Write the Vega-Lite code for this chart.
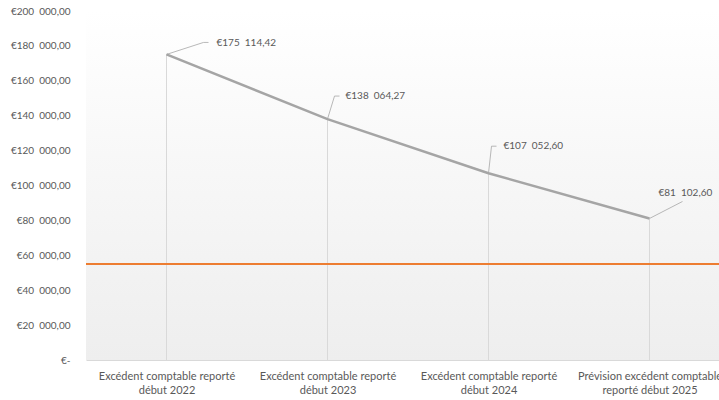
{
  "$schema": "https://vega.github.io/schema/vega-lite/v6.json",
  "autosize": "none",
  "width": 644,
  "height": 349,
  "padding": {"left": 86, "top": 11, "right": 0, "bottom": 40},
  "background": "white",
  "config": {
    "locale": {"number": {"decimal": ",", "thousands": "\u00a0\u00a0", "grouping": [3], "currency": ["€", ""]}},
    "font": "Lato",
    "view": {"stroke": null, "fill": {"gradient": "linear", "x1": 0, "y1": 0, "x2": 0, "y2": 1, "stops": [{"offset": 0, "color": "#ffffff"}, {"offset": 1, "color": "#eeeeee"}]}},
    "axis": {"labelColor": "#595959", "labelFontSize": 11, "labelFont": "Lato", "grid": false, "ticks": false, "title": null}
  },
  "datasets": {
    "serie": [
      {"cat": "Excédent comptable reporté début 2022", "value": 175114.42},
      {"cat": "Excédent comptable reporté début 2023", "value": 138064.27},
      {"cat": "Excédent comptable reporté début 2024", "value": 107052.60},
      {"cat": "Prévision excédent comptable reporté début 2025", "value": 81102.60}
    ],
    "seuil": [{"seuil": 55000}]
  },
  "data": {"name": "serie"},
  "encoding": {
    "x": {"field": "cat", "type": "nominal", "sort": null,
      "scale": {"type": "point", "padding": 0.5},
      "axis": {"labelAngle": 0, "labelPadding": 10, "labelLineHeight": 14, "domainColor": "#d9d9d9", "domainWidth": 1,
        "labelExpr": "indexof(datum.label,'Prévision')==0 ? [substring(datum.label,0,28), substring(datum.label,29)] : [substring(datum.label,0,26), substring(datum.label,27)]"}},
    "y": {"field": "value", "type": "quantitative",
      "scale": {"domain": [0, 200000], "nice": false},
      "axis": {"values": [0, 20000, 40000, 60000, 80000, 100000, 120000, 140000, 160000, 180000, 200000], "format": "$,.2f", "labelFontSize": 10, "labelExpr": "datum.value == 0 ? '€-\u00a0\u00a0' : datum.label", "domain": false, "labelPadding": 16}}
  },
  "layer": [
    {"mark": {"type": "rule", "color": "#d9d9d9", "strokeWidth": 1}, "encoding": {"y2": {"datum": 0}}},
    {"data": {"name": "seuil"}, "mark": {"type": "rule", "color": "#ed7d31", "strokeWidth": 2}, "encoding": {"x": null, "y": {"field": "seuil", "type": "quantitative"}}},
    {"mark": {"type": "line", "color": "#a5a5a5", "strokeWidth": 2.5}},
    {"transform": [{"filter": "indexof(datum.cat,'2022')>0"}], "layer": [
      {"mark": {"type": "rule", "color": "#a6a6a6", "strokeWidth": 0.8, "x2Offset": 37, "y2Offset": -12}, "encoding": {"x2": {"field": "cat"}, "y2": {"field": "value"}}},
      {"mark": {"type": "rule", "color": "#a6a6a6", "strokeWidth": 0.8, "xOffset": 37, "x2Offset": 42, "yOffset": -12}, "encoding": {"x2": {"field": "cat"}}},
      {"mark": {"type": "text", "align": "left", "baseline": "middle", "dx": 50, "dy": -11, "fontSize": 10, "color": "#595959"}, "encoding": {"text": {"field": "value", "type": "quantitative", "format": "$,.2f"}}}
    ]},
    {"transform": [{"filter": "indexof(datum.cat,'2023')>0"}], "layer": [
      {"mark": {"type": "rule", "color": "#a6a6a6", "strokeWidth": 0.8, "x2Offset": 7, "y2Offset": -23}, "encoding": {"x2": {"field": "cat"}, "y2": {"field": "value"}}},
      {"mark": {"type": "rule", "color": "#a6a6a6", "strokeWidth": 0.8, "xOffset": 7, "x2Offset": 12, "yOffset": -23}, "encoding": {"x2": {"field": "cat"}}},
      {"mark": {"type": "text", "align": "left", "baseline": "middle", "dx": 18, "dy": -23, "fontSize": 10, "color": "#595959"}, "encoding": {"text": {"field": "value", "type": "quantitative", "format": "$,.2f"}}}
    ]},
    {"transform": [{"filter": "indexof(datum.cat,'2024')>0"}], "layer": [
      {"mark": {"type": "rule", "color": "#a6a6a6", "strokeWidth": 0.8, "x2Offset": 3, "y2Offset": -27}, "encoding": {"x2": {"field": "cat"}, "y2": {"field": "value"}}},
      {"mark": {"type": "rule", "color": "#a6a6a6", "strokeWidth": 0.8, "xOffset": 3, "x2Offset": 8, "yOffset": -27}, "encoding": {"x2": {"field": "cat"}}},
      {"mark": {"type": "text", "align": "left", "baseline": "middle", "dx": 15, "dy": -27, "fontSize": 10, "color": "#595959"}, "encoding": {"text": {"field": "value", "type": "quantitative", "format": "$,.2f"}}}
    ]},
    {"transform": [{"filter": "indexof(datum.cat,'2025')>0"}], "layer": [
      {"mark": {"type": "rule", "color": "#a6a6a6", "strokeWidth": 0.8, "x2Offset": 33, "y2Offset": -17}, "encoding": {"x2": {"field": "cat"}, "y2": {"field": "value"}}},
      {"mark": {"type": "text", "align": "left", "baseline": "middle", "dx": 9, "dy": -25, "fontSize": 10, "color": "#595959"}, "encoding": {"text": {"field": "value", "type": "quantitative", "format": "$,.2f"}}}
    ]}
  ]
}
